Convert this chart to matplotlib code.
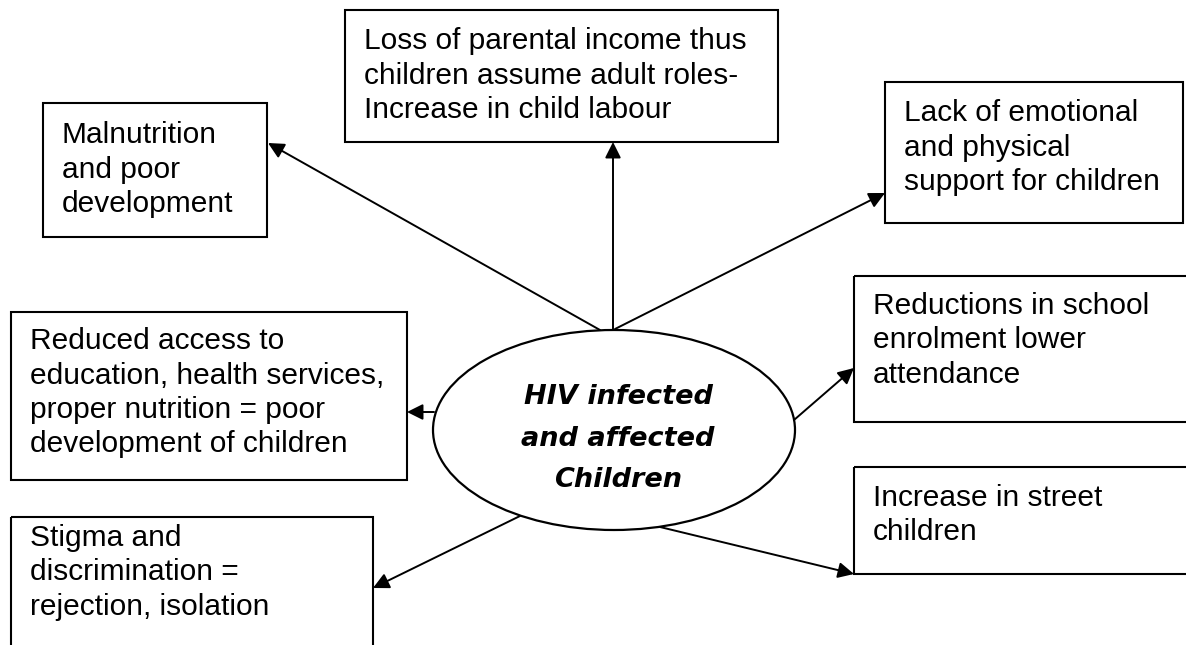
import matplotlib
matplotlib.use("Agg")
import matplotlib.pyplot as plt
from matplotlib.patches import Rectangle, Ellipse

# ---- content ----
center_label = ["HIV infected", "and affected", "Children"]

box_texts = [
    ["Loss of parental income thus", "children assume adult roles-", "Increase in child labour"],
    ["Malnutrition", "and poor", "development"],
    ["Lack of emotional", "and physical", "support for children"],
    ["Reduced access to", "education, health services,", "proper nutrition = poor", "development of children"],
    ["Reductions in school", "enrolment lower", "attendance"],
    ["Increase in street", "children"],
    ["Stigma and", "discrimination =", "rejection, isolation"],
]

# ---- layout (pixel coordinates, y downward) ----
box_rects = [  # x0, y0, x1, y1
    (345, 10, 778, 142),
    (43, 103, 267, 237),
    (885, 82, 1183, 223),
    (11, 312, 407, 480),
    (854, 276, 1200, 422),
    (854, 467, 1200, 574),
    (11, 517, 373, 660),
]
first_line_y = [38, 132, 110, 338, 303, 495, 535]
text_x_pad = 19
line_step = 34.5

arrows = [  # start, tip
    ((600, 330), (268, 143)),
    ((613, 329), (613, 142)),
    ((615, 329), (885, 193)),
    ((434, 412), (407, 412)),
    ((794, 420), (854, 368)),
    ((660, 527), (854, 574)),
    ((520, 516), (373, 588)),
]

ell_center = (614, 430)
ell_size = (362, 200)

W, H = 1186, 645
fig = plt.figure(figsize=(W / 100, H / 100), dpi=100)
ax = fig.add_axes([0, 0, 1, 1])
ax.set_xlim(0, W)
ax.set_ylim(H, 0)
ax.axis("off")

for (x0, y0, x1, y1), lines, fy in zip(box_rects, box_texts, first_line_y):
    ax.add_patch(Rectangle((x0, y0), x1 - x0, y1 - y0, fill=False,
                           edgecolor="black", lw=1.5, clip_on=True))
    for i, ln in enumerate(lines):
        ax.text(x0 + text_x_pad, fy + i * line_step + 11, ln,
                family="Liberation Sans", fontsize=21.5,
                ha="left", va="baseline", color="black")

ax.add_patch(Ellipse(ell_center, ell_size[0], ell_size[1], fill=False,
                     edgecolor="black", lw=1.6))
for i, ln in enumerate(center_label):
    ax.text(ell_center[0] + 4, 392 + i * 41.5 + 12, ln, family="DejaVu Sans",
            fontsize=19.5, fontweight="bold", fontstyle="italic",
            ha="center", va="baseline", color="black")

for start, tip in arrows:
    ax.annotate("", xy=tip, xytext=start,
                arrowprops=dict(arrowstyle="-|>", color="black", lw=1.4,
                                mutation_scale=24, shrinkA=0, shrinkB=0))

fig.savefig("out.png", dpi=100)
